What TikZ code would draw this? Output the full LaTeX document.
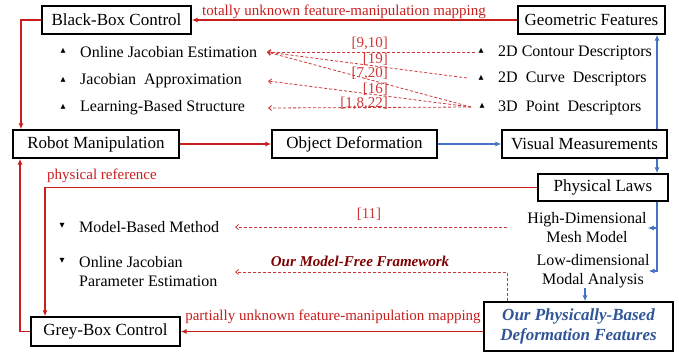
\documentclass[tikz,border=0pt]{standalone}
\usepackage{fontspec}
\setmainfont{Liberation Serif}
\newfontfamily\symfont{DejaVu Sans}
\usetikzlibrary{arrows.meta}
\definecolor{cred}{RGB}{200,30,30}
\definecolor{lred}{RGB}{205,55,55}
\definecolor{dred}{RGB}{128,0,0}
\definecolor{cblue}{RGB}{68,114,196}
\definecolor{tblue}{RGB}{47,85,151}
\begin{document}
\begin{tikzpicture}[x=1pt,y=-1pt,
  box/.style={draw,line width=1.4pt,minimum height=28pt,inner sep=0pt,font=\fontsize{17}{20}\selectfont},
  item/.style={anchor=west,inner sep=0pt,font=\fontsize{16}{19}\selectfont},
  ctext/.style={inner sep=0pt,align=center,font=\fontsize{16}{19}\selectfont},
  bul/.style={inner sep=0pt,font=\symfont\fontsize{6.5}{7}\selectfont},
  lab/.style={inner sep=0pt,text=cred,font=\fontsize{15}{17}\selectfont},
  dlab/.style={inner sep=0pt,text=lred,font=\fontsize{15}{17}\selectfont},
  redarr/.style={draw=cred,line width=1.2pt,-{Latex[length=6pt,width=5pt]}},
  bluearr/.style={draw=cblue,line width=1.1pt,-{Latex[length=6pt,width=5pt]}},
  dasharr/.style={draw=lred,line width=0.8pt,dash pattern=on 3pt off 2pt,-{Straight Barb[length=3pt,width=5pt]}}
]
\useasboundingbox (0,0) rectangle (679,354);

% boxes
\node[box,minimum width=149pt] (bb) at (116.5,20) {Black-Box Control};
\node[box,minimum width=147pt] (gf) at (591.5,20) {Geometric Features};
\node[box,minimum width=166pt] (rm) at (96,144) {Robot Manipulation};
\node[box,minimum width=165pt] (od) at (354.5,144) {Object Deformation};
\node[box,minimum width=165pt] (vm) at (584.5,144) {Visual Measurements};
\node[box,minimum width=130pt,minimum height=27pt] (pl) at (603,187.5) {Physical Laws};
\node[box,minimum width=149pt,minimum height=29pt] (gb) at (105.5,331.5) {Grey-Box Control};
\node[box,minimum width=189pt,minimum height=49pt,align=center,text=tblue,
      font=\fontsize{17}{20}\selectfont\bfseries\itshape] (pf) at (578.5,326.5) {Our Physically-Based\\Deformation Features};

% upper left list
\node[bul] (b1) at (63,51) {▲};
\node[bul] (b2) at (63,80) {▲};
\node[bul] (b3) at (63,107) {▲};
\node[item] (oje) at (80,52) {Online Jacobian Estimation};
\node[item] (ja) at (80,81) {Jacobian~ Approximation};
\node[item] (lbs) at (80,108) {Learning-Based Structure};

% upper right list
\node[bul] (b4) at (481,51) {▲};
\node[bul] (b5) at (481,78) {▲};
\node[bul] (b6) at (482,106) {▲};
\node[item] (cd) at (498,53) {2D Contour Descriptors};
\node[item] (cv) at (498,79) {2D~ Curve~ Descriptors};
\node[item] (pd) at (498,108) {3D~ Point~ Descriptors};

% dashed connectors (upper)
\coordinate (l1) at (267,52);
\coordinate (l2) at (268,81);
\coordinate (l3) at (268,108);
\coordinate (r1) at (475,52);
\coordinate (r2) at (467,78);
\coordinate (r3) at (471,107);
\draw[dasharr] (r1) -- (l1);
\draw[dasharr] (r2) -- (l1);
\draw[dasharr] (r3) -- (l1);
\draw[dasharr] (r3) -- (l2);
\draw[dasharr] (r3) -- (l3);
\node[dlab,anchor=east] (c1) at (388,43) {[9,10]};
\node[dlab,anchor=east] (c2) at (388,59) {[19]};
\node[dlab,anchor=east] (c3) at (388,73) {[7,20]};
\node[dlab,anchor=east] (c4) at (388,89) {[16]};
\node[dlab,anchor=east] (c5) at (388,103) {[1,8,22]};

% lower left list
\node[bul] (b7) at (62,226) {▼};
\node[bul] (b8) at (62,261) {▼};
\node[item] (mbm) at (79,227) {Model-Based Method};
\node[item,align=left] (ojp) at (79,272) {Online Jacobian\\Parameter Estimation};

% right middle texts
\node[ctext] (hd) at (587,228) {High-Dimensional\\Mesh Model};
\node[ctext] (ld) at (593,271) {Low-dimensional\\Modal Analysis};

% helper coordinates
\coordinate (xa) at (21,0);
\coordinate (xb) at (20,0);
\coordinate (xc) at (45,0);
\coordinate (xd) at (657,0);
\coordinate (xe) at (585,0);
\coordinate (xf) at (507,0);
\coordinate (m1) at (507,227);
\coordinate (m2) at (235,227);
\coordinate (o2) at (235,272);

% red solid connectors
\draw[redarr] (gf.west) -- (bb.east);
\node[lab] (t1) at (344,12) {totally unknown feature-manipulation mapping};
\draw[redarr] (bb.west) -| (xa |- rm.north);
\draw[redarr] (rm.east) -- (od.west);
\draw[redarr] (pl.west) -| (xc |- gb.north);
\node[lab,anchor=west] (t2) at (47,176) {physical reference};
\draw[redarr] (gb.west) -| (xb |- rm.south);
\draw[redarr] (pf.west |- gb.east) -- (gb.east);
\node[lab] (t3) at (333,317) {partially unknown feature-manipulation mapping};

% blue connectors
\draw[bluearr] (od.east) -- (vm.west);
\draw[bluearr] (vm.north -| xd) -- (gf.south -| xd);
\draw[bluearr] (vm.south -| xd) -- (pl.north -| xd);
\draw[bluearr] (pl.south -| xd) |- ([xshift=1pt]hd.east);
\draw[bluearr] (pl.south -| xd) |- ([xshift=-1pt]ld.east);
\draw[bluearr] (ld.south -| xe) -- (pf.north -| xe);

% dashed connectors (lower)
\draw[dasharr] (m1) -- (m2);
\node[dlab] (c6) at (369,214) {[11]};
\draw[dasharr] (pf.north -| xf) |- (o2);
\node[inner sep=0pt,text=dred,font=\fontsize{15}{17}\selectfont\bfseries\itshape] (mf) at (360,261) {Our Model-Free Framework};
\end{tikzpicture}
\end{document}
